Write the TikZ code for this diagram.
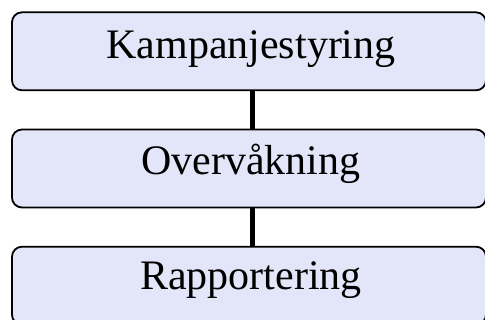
\documentclass[tikz,border=0pt]{standalone}
\usepackage{fontspec}
\setmainfont{Liberation Serif}
\definecolor{boxfill}{RGB}{227,229,248}
\tikzset{
  stagebox/.style={draw=black, line width=1.8pt, fill=boxfill, rounded corners=10pt,
    minimum width=474pt, minimum height=78pt, inner sep=0pt},
  stagelabel/.style={anchor=base, font=\fontsize{42}{50}\selectfont, inner sep=0pt},
  link/.style={line width=4.5pt, black}
}
\begin{document}
\begin{tikzpicture}[x=1pt,y=-1pt]
\useasboundingbox (0,0) rectangle (485,320);
\clip (0,0) rectangle (485,320);
\fill[white] (0,0) rectangle (485,320);
\node[stagebox] (b1) at (249,51.3) {};
\node[stagebox] (b2) at (249,168.5) {};
\node[stagebox] (b3) at (249,285.7) {};
\draw[link] (252.5,0 |- b1.south) -- (252.5,0 |- b2.north);
\draw[link] (252.5,0 |- b2.south) -- (252.5,0 |- b3.north);
\node[stagelabel] (t1) at (251,59) {Kampanjestyring};
\node[stagelabel] (t2) at (251,174.3) {Overvåkning};
\node[stagelabel] (t3) at (251,290) {Rapportering};
\end{tikzpicture}
\end{document}
